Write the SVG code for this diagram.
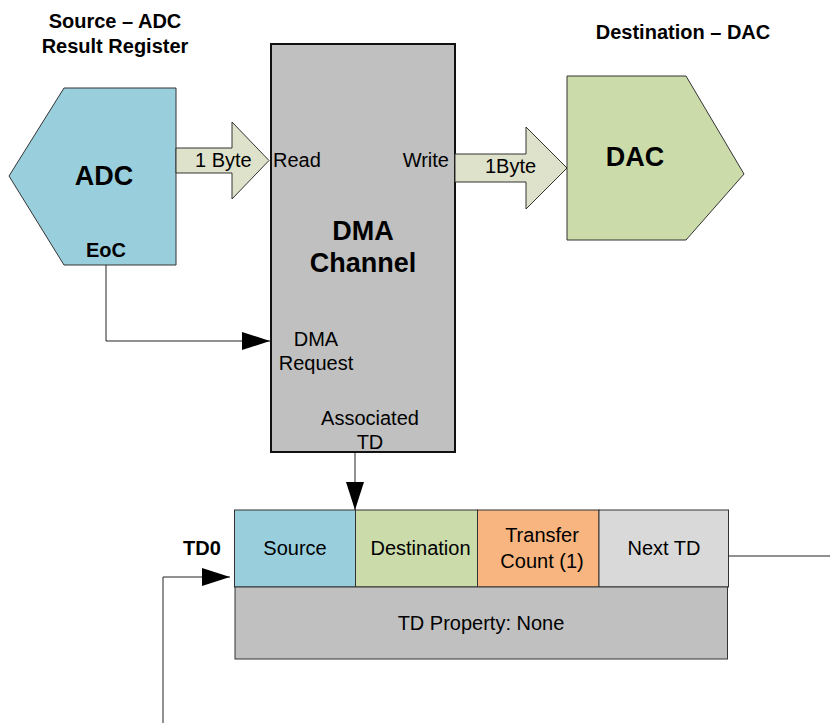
<svg xmlns="http://www.w3.org/2000/svg" width="830" height="723" viewBox="0 0 830 723">
<defs>
<style>
text{font-family:"Liberation Sans",Arial,sans-serif;fill:#000}
.t{font-size:20px}
.b{font-size:20px;font-weight:bold}
.big{font-size:27px;font-weight:bold}
.m{text-anchor:middle}
.shape{stroke:#333;stroke-width:1}
.conn{fill:none;stroke:#222;stroke-width:1}
</style>
<marker id="ah" markerUnits="userSpaceOnUse" markerWidth="28" markerHeight="18" viewBox="0 0 28 18" refX="28" refY="9" orient="auto">
<path d="M0,0 L28,9 L0,18 z" fill="#000"/>
</marker>
</defs>
<rect width="830" height="723" fill="#fff"/>

<text class="b m" x="115" y="28">Source – ADC</text>
<text class="b m" x="115" y="53">Result Register</text>
<text class="b m" x="683" y="39">Destination – DAC</text>

<g id="adc">
<polygon class="shape" points="9,176 64,88 176,88 176,265 64,265" fill="#99cfdd"/>
<text class="big m" x="104" y="185">ADC</text>
<text class="b m" x="106" y="257">EoC</text>
</g>

<g id="read-arrow">
<polygon class="shape" points="176,148 232,148 232,122 269,160.5 232,199 232,173 176,173" fill="#dfe2cb"/>
<text class="t" x="195" y="167">1 Byte</text>
</g>

<g id="dma">
<rect x="271" y="44" width="184" height="408" fill="#c0c0c0" stroke="#111" stroke-width="2"/>
<text class="t" x="273" y="167">Read</text>
<text class="t" x="449" y="167" text-anchor="end">Write</text>
<text class="big m" x="363" y="240">DMA</text>
<text class="big m" x="363" y="272">Channel</text>
<text class="t m" x="316" y="346">DMA</text>
<text class="t m" x="316" y="370">Request</text>
<text class="t m" x="370" y="425">Associated</text>
<text class="t m" x="370" y="449">TD</text>
</g>

<g id="write-arrow">
<polygon class="shape" points="455,154 526,154 526,127 567,168 526,209 526,182 455,182" fill="#dfe2cb"/>
<text class="t" x="485" y="173">1Byte</text>
</g>

<g id="dac">
<polygon class="shape" points="567,76 686,76 744,174 686,240 567,240" fill="#cbdcaa"/>
<text class="big m" x="635" y="166">DAC</text>
</g>

<g id="td0">
<text class="b" x="183" y="555">TD0</text>
<rect class="shape" x="234.5" y="510" width="121" height="77" fill="#99cfdd"/>
<rect class="shape" x="355.5" y="510" width="122" height="77" fill="#cbdcaa"/>
<rect class="shape" x="477.5" y="510" width="121.5" height="77" fill="#f8b57f"/>
<rect class="shape" x="599" y="510" width="129.5" height="77" fill="#d9d9d9"/>
<rect class="shape" x="235" y="587" width="492.5" height="72" fill="#c0c0c0"/>
<text class="t m" x="295" y="555">Source</text>
<text class="t m" x="420.5" y="555">Destination</text>
<text class="t m" x="542" y="542">Transfer</text>
<text class="t m" x="542" y="568">Count (1)</text>
<text class="t m" x="664" y="555">Next TD</text>
<text class="t m" x="481" y="630">TD Property: None</text>
</g>

<g id="connectors">
<path class="conn" d="M106,265 V341 H270" marker-end="url(#ah)"/>
<path class="conn" d="M355,453 V510" marker-end="url(#ah)"/>
<path class="conn" d="M163,723 V577 H230" marker-end="url(#ah)"/>
<path class="conn" d="M728.5,556 H830"/>
</g>
</svg>
